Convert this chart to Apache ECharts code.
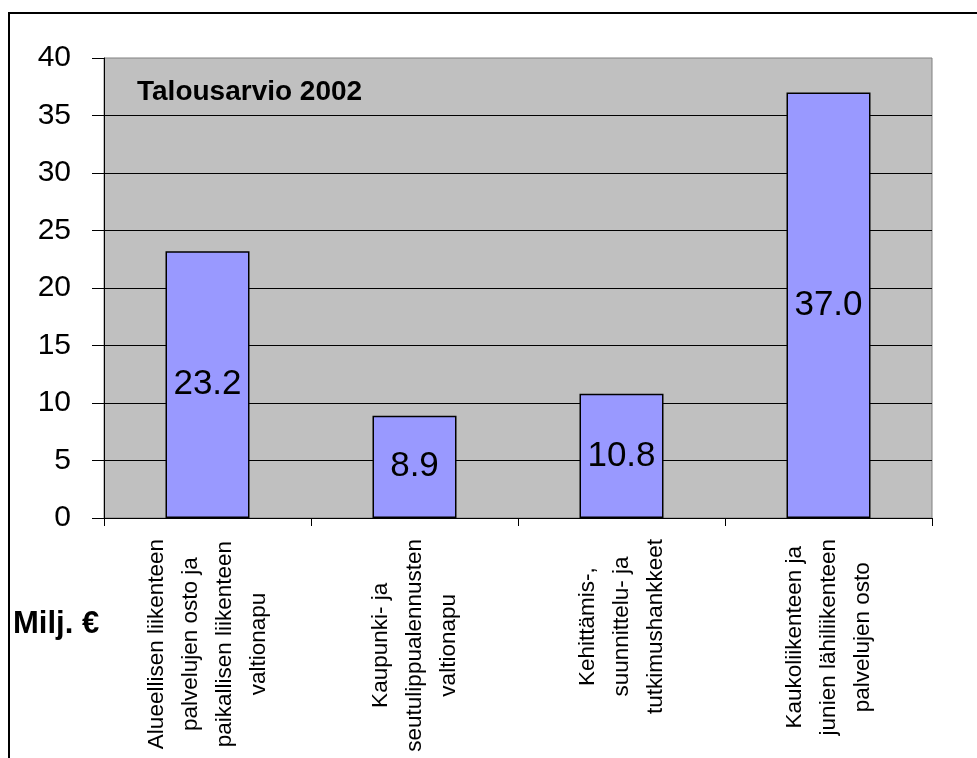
<!DOCTYPE html>
<html>
<head>
<meta charset="utf-8">
<script src="https://cdn.jsdelivr.net/npm/echarts@6/dist/echarts.min.js"></script>
<style>html,body{margin:0;padding:0;background:#fff;}#c{width:977px;height:758px;}</style>
</head>
<body>
<div id="c"></div>
<script>
const categories = [
  'Alueellisen liikenteen\npalvelujen osto ja\npaikallisen liikenteen\nvaltionapu',
  'Kaupunki- ja\nseutulippualennusten\nvaltionapu',
  'Kehittämis-,\nsuunnittelu- ja\ntutkimushankkeet',
  'Kaukoliikenteen ja\njunien lähiliikenteen\npalvelujen osto'
];
const values = [23.2, 8.9, 10.8, 37.0];
const yTicks = { min: 0, max: 40, interval: 5 };
const titleText = 'Talousarvio 2002';
const unitText = 'Milj. €';

const FONT = 'Liberation Sans, Arial, sans-serif';
const chart = echarts.init(document.getElementById('c'), null, { renderer: 'canvas' });
chart.setOption({
  backgroundColor: '#ffffff',
  animation: false,
  title: {
    text: titleText,
    left: 137, top: 78, padding: 0,
    textStyle: { fontFamily: FONT, fontWeight: 'bold', fontSize: 28, color: '#000' }
  },
  graphic: [
    { type: 'rect', shape: { x: 9, y: 13, width: 1000, height: 800 },
      style: { fill: 'none', stroke: '#000', lineWidth: 2 }, silent: true, z: 100 },
    { type: 'text', x: 13, y: 624,
      style: { text: unitText, fontFamily: FONT, fontWeight: 'bold', fontSize: 31, fill: '#000', verticalAlign: 'middle' } }
  ],
  grid: {
    left: 104, top: 58, right: 45, bottom: 240,
    show: true, backgroundColor: '#c0c0c0', borderColor: '#808080', borderWidth: 1
  },
  xAxis: {
    type: 'category',
    data: categories,
    axisLine: { lineStyle: { color: '#000', width: 1 } },
    axisTick: { show: true, length: 8, lineStyle: { color: '#000' } },
    axisLabel: {
      interval: 0, rotate: 90, margin: 21, color: '#000',
      fontFamily: FONT, fontSize: 22,
      formatter: function (v) { return v.split('\n').map(s => '{a|' + s + '}').join('\n'); },
      rich: { a: { align: 'center', fontFamily: FONT, fontSize: 22.5, lineHeight: 34, color: '#000' } }
    }
  },
  yAxis: {
    type: 'value',
    min: yTicks.min, max: yTicks.max, interval: yTicks.interval,
    axisLine: { show: true, lineStyle: { color: '#000', width: 1 } },
    axisTick: { show: true, length: 12, lineStyle: { color: '#000' } },
    axisLabel: { margin: 33, color: '#000', fontFamily: FONT, fontSize: 30 },
    splitLine: { show: true, showMaxLine: false, lineStyle: { color: '#000', width: 1 } }
  },
  series: [{
    type: 'bar',
    data: values,
    barWidth: 84,
    itemStyle: { color: '#9999ff', borderColor: '#000', borderWidth: 1.5 },
    label: {
      show: true, position: 'inside', color: '#000',
      fontFamily: FONT, fontSize: 35,
      formatter: p => p.value.toFixed(1)
    }
  }]
});
</script>
</body>
</html>
